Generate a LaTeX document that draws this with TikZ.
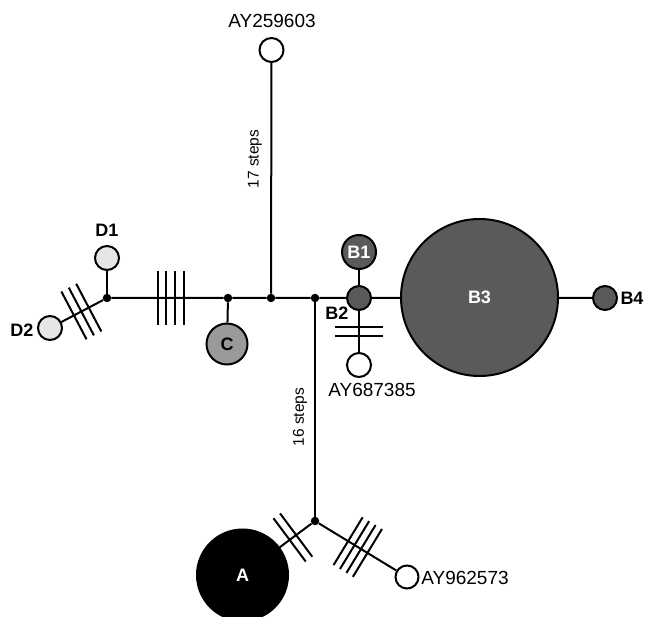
\documentclass[tikz,border=0pt]{standalone}
\usepackage{fontspec}
\setmainfont{Liberation Sans}
\usetikzlibrary{calc}
\definecolor{dgray}{HTML}{5A5A5A}
\definecolor{mgray}{HTML}{999999}
\definecolor{lgray}{HTML}{E6E6E6}
\newcommand\hmark[4]{\draw[mk] ($(#1)!#3!(#2)!#4!90:(#2)$) -- ($(#1)!#3!(#2)!#4!-90:(#2)$);}
\begin{document}
\begin{tikzpicture}[x=1pt,y=-1pt,
  hap/.style={circle,draw=black,line width=2pt,inner sep=0pt,minimum size=#1},
  hap/.default=24pt,
  dot/.style={circle,fill=black,inner sep=0pt,minimum size=8.5pt},
  ln/.style={line width=2pt},
  mk/.style={line width=2pt},
  lab/.style={font=\fontsize{18}{20}\selectfont\bfseries},
  wlab/.style={font=\fontsize{18}{20}\selectfont\bfseries,text=white},
  acc/.style={font=\fontsize{19}{22}\selectfont},
  stp/.style={font=\fontsize{15.5}{18}\selectfont,rotate=90}]
\useasboundingbox (0,0) rectangle (648,617);
\begin{scope}
\clip (0,0) rectangle (648,617);
% junctions
\node[dot] (Dj) at (107,298) {};
\node[dot] (Cj) at (228,298) {};
\node[dot] (Uj) at (271,298) {};
\node[dot] (Vj) at (315,298) {};
\node[dot] (J) at (315,521) {};
% haplotypes
\node[hap,fill=lgray] (D1) at (107,258) {};
\node[hap,fill=lgray] (D2) at (50,328) {};
\node[hap=41pt,fill=mgray] (C) at (227,344) {};
\node[hap,fill=white] (AY1) at (271.5,50) {};
\node[hap,fill=dgray] (B2) at (359,298) {};
\node[hap=34pt,fill=dgray] (B1) at (359,252) {};
\node[hap,fill=white] (AY2) at (359,365) {};
\node[hap=157pt,fill=dgray] (B3) at (479.5,297.5) {};
\node[hap,fill=dgray] (B4) at (605,298) {};
\node[hap=91pt,fill=black] (A) at (242.5,575) {};
\node[hap=23pt,fill=white] (AY3) at (407,577) {};
% connectors
\draw[ln] (Dj) -- (Cj) -- (Uj) -- (Vj) -- (B2) -- (B3) -- (B4);
\draw[ln] (Dj) -- (D1);
\draw[ln] (Dj) -- (D2);
\draw[ln] (Cj) -- (C);
\draw[ln] (Uj) -- (AY1);
\draw[ln] (Vj) -- (J);
\draw[ln] (B2) -- (B1);
\draw[ln] (B2) -- (AY2);
\draw[ln] (J) -- (A);
\draw[ln] (J) -- (AY3);
% mutation marks
\hmark{Dj}{Cj}{0.42}{27pt}
\hmark{Dj}{Cj}{0.488}{27pt}
\hmark{Dj}{Cj}{0.562}{27pt}
\hmark{Dj}{Cj}{0.636}{27pt}
\hmark{Dj}{D2}{0.32}{27pt}
\hmark{Dj}{D2}{0.45}{27pt}
\hmark{Dj}{D2}{0.58}{27pt}
\hmark{B2}{AY2}{0.43}{24pt}
\hmark{B2}{AY2}{0.57}{24pt}
\hmark{J}{A}{0.26}{27pt}
\hmark{J}{A}{0.35}{27pt}
\hmark{J}{AY3}{0.36}{28pt}
\hmark{J}{AY3}{0.43}{28pt}
\hmark{J}{AY3}{0.50}{28pt}
\hmark{J}{AY3}{0.57}{28pt}
% labels
\node[lab] (lD1) at (107,230) {D1};
\node[lab] (lD2) at (22,330) {D2};
\node[lab] (lC) at (C) {C};
\node[wlab] (lB1) at (B1) {B1};
\node[lab] (lB2) at (337,313) {B2};
\node[wlab] (lB3) at (B3) {B3};
\node[lab] (lB4) at (632,298) {B4};
\node[wlab] (lA) at (A) {A};
\node[acc] (tAY1) at (272,21) {AY259603};
\node[acc] (tAY2) at (372,390) {AY687385};
\node[acc] (tAY3) at (465,578) {AY962573};
\node[stp] (s17) at (255,159) {17 steps};
\node[stp] (s16) at (300,417) {16 steps};
\end{scope}
\end{tikzpicture}
\end{document}
